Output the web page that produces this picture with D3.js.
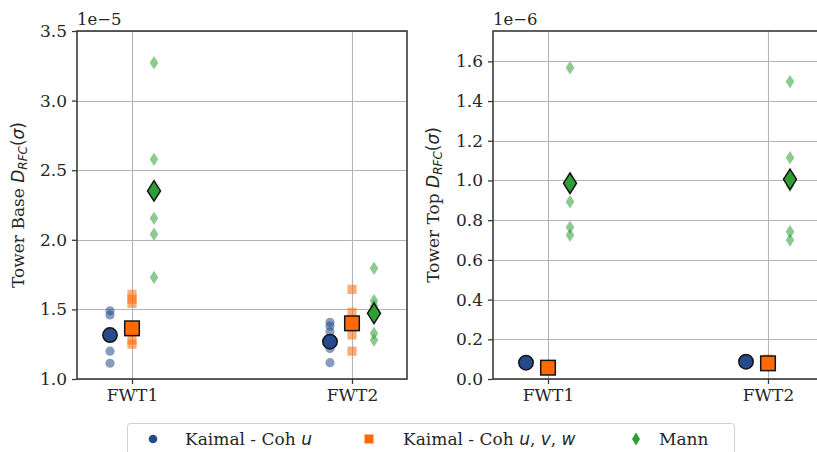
<!DOCTYPE html>
<html><head><meta charset="utf-8">
<script src="https://cdn.jsdelivr.net/npm/d3@7"></script>
<style>body{margin:0;background:#fff}svg{display:block}</style>
</head><body>
<svg id="chart" width="817" height="452"></svg>
<script>
// Turbines on the x axis
const turbines = ["FWT1", "FWT2"];

// Tower base damage D_RFC(sigma), in units of 1e-5 (individual seeds per turbine)
const baseKaimalU   = [[1.49, 1.46, 1.32, 1.20, 1.113], [1.407, 1.38, 1.34, 1.22, 1.117]];
const baseKaimalUVW = [[1.608, 1.573, 1.544, 1.28, 1.25], [1.644, 1.479, 1.40, 1.316, 1.20]];
const baseMann      = [[3.272, 2.578, 2.154, 2.04, 1.73], [1.795, 1.562, 1.524, 1.328, 1.28]];
// Tower base averages (1e-5)
const baseMeanKaimalU   = [1.316, 1.268];
const baseMeanKaimalUVW = [1.364, 1.40];
const baseMeanMann      = [2.351, 1.472];

// Tower top damage D_RFC(sigma), in units of 1e-6
const topKaimalU   = [[0.085, 0.082, 0.080, 0.078, 0.083], [0.092, 0.088, 0.085, 0.086, 0.090]];
const topKaimalUVW = [[0.060, 0.055, 0.050, 0.058, 0.060], [0.100, 0.085, 0.075, 0.070, 0.080]];
const topMann      = [[1.568, 0.893, 0.764, 0.725, 0.980], [1.498, 1.115, 0.742, 0.700, 0.975]];
// Tower top averages (1e-6)
const topMeanKaimalU   = [0.082, 0.087];
const topMeanKaimalUVW = [0.057, 0.079];
const topMeanMann      = [0.986, 1.006];

// Axis ticks
const baseTicks = [1.0, 1.5, 2.0, 2.5, 3.0, 3.5];
const topTicks  = [0.0, 0.2, 0.4, 0.6, 0.8, 1.0, 1.2, 1.4, 1.6];

const COLORS = { u: "#274a8c", uvw: "#ff6a06", mann: "#2e9f35" };
const SERIF = "'DejaVu Serif', 'Liberation Serif', serif";
const SANS = "'DejaVu Sans', sans-serif";
const FS = 17;

const svg = d3.select("#chart");

// marker path builders (centred at 0,0)
function diamondPath(w, h) {
  return `M0,${-h/2}L${w/2},0L0,${h/2}L${-w/2},0Z`;
}

function panel(opts) {
  const { left, right, top, bottom, yDomain, ticks, offsetText, labelX, labelPrefix, series } = opts;
  const g = svg.append("g");
  const x = d3.scaleLinear().domain([-0.25, 1.25]).range([left, right]);
  const y = d3.scaleLinear().domain(yDomain).range([bottom, top]);

  const clipId = "clip" + Math.round(left);
  svg.append("clipPath").attr("id", clipId)
    .append("rect").attr("x", left).attr("y", top).attr("width", right - left).attr("height", bottom - top);

  // grid
  const grid = g.append("g").attr("stroke", "#b4b4b4").attr("stroke-width", 1.1);
  grid.selectAll("line.h").data(ticks).join("line")
    .attr("x1", left).attr("x2", right)
    .attr("y1", d => Math.round(y(d)) + 0.5).attr("y2", d => Math.round(y(d)) + 0.5);
  grid.selectAll("line.v").data([0, 1]).join("line")
    .attr("y1", top).attr("y2", bottom)
    .attr("x1", d => Math.round(x(d)) + 0.5).attr("x2", d => Math.round(x(d)) + 0.5);

  const marks = g.append("g").attr("clip-path", `url(#${clipId})`);
  const offsets = [-0.1, 0, 0.1];
  series.forEach((s, si) => {
    const dx = offsets[si];
    // individual seeds
    const pts = [];
    s.values.forEach((arr, ti) => arr.forEach(v => pts.push({ t: ti, v })));
    const light = marks.append("g").attr("fill", s.color).attr("fill-opacity", 0.55);
    const big = marks.append("g").attr("fill", s.color).attr("stroke", "#151515").attr("stroke-width", 1.5);
    if (s.shape === "circle") {
      light.selectAll("circle").data(pts).join("circle")
        .attr("cx", d => x(d.t + dx)).attr("cy", d => y(d.v)).attr("r", 4.6);
      big.selectAll("circle").data(s.means).join("circle")
        .attr("cx", (d, i) => x(i + dx)).attr("cy", d => y(d)).attr("r", 7.2);
    } else if (s.shape === "square") {
      light.selectAll("rect").data(pts).join("rect")
        .attr("x", d => x(d.t + dx) - 4.6).attr("y", d => y(d.v) - 4.6)
        .attr("width", 9.2).attr("height", 9.2);
      big.selectAll("rect").data(s.means).join("rect")
        .attr("x", (d, i) => x(i + dx) - 7.3).attr("y", d => y(d) - 7.3)
        .attr("width", 14.6).attr("height", 14.6);
    } else {
      light.selectAll("path").data(pts).join("path")
        .attr("transform", d => `translate(${x(d.t + dx)},${y(d.v)})`)
        .attr("d", diamondPath(8.6, 13.4));
      big.selectAll("path").data(s.means).join("path")
        .attr("transform", (d, i) => `translate(${x(i + dx)},${y(d)})`)
        .attr("d", diamondPath(13, 20.5));
    }
  });

  // frame
  g.append("rect").attr("x", left).attr("y", top).attr("width", right - left).attr("height", bottom - top)
    .attr("fill", "none").attr("stroke", "#3a3a3a").attr("stroke-width", 1.6);

  // axes
  const yAxis = d3.axisLeft(y).tickValues(ticks).tickFormat(d3.format(".1f")).tickSize(5).tickPadding(5);
  const ya = g.append("g").attr("transform", `translate(${left},0)`).call(yAxis);
  const xAxis = d3.axisBottom(x).tickValues([0, 1]).tickFormat(i => turbines[i]).tickSize(5).tickPadding(5);
  const xa = g.append("g").attr("transform", `translate(0,${bottom})`).call(xAxis);
  [ya, xa].forEach(a => {
    a.attr("font-family", null).attr("font-size", null);
    a.select(".domain").remove();
    a.selectAll(".tick line").attr("stroke", "#3a3a3a").attr("stroke-width", 1.3);
    a.selectAll(".tick text").attr("fill", "#262626").attr("font-family", SERIF).attr("font-size", FS);
  });

  // scale offset text
  g.append("text").attr("x", left).attr("y", top - 6)
    .attr("fill", "#262626").attr("font-family", SERIF).attr("font-size", 16.5)
    .text(offsetText);

  // y label with math part
  const cy = (top + bottom) / 2;
  const lab = g.append("text")
    .attr("transform", `translate(${labelX},${cy}) rotate(-90)`)
    .attr("text-anchor", "middle").attr("fill", "#262626")
    .attr("font-family", SERIF).attr("font-size", 17);
  lab.append("tspan").text(labelPrefix + " ");
  lab.append("tspan").attr("font-family", SANS).attr("font-style", "italic").text("D");
  lab.append("tspan").attr("font-family", SANS).attr("font-style", "italic").attr("font-size", 12)
    .attr("dy", 3).text("RFC");
  lab.append("tspan").attr("font-family", SANS).attr("dy", -3).text("(");
  lab.append("tspan").attr("font-family", SANS).attr("font-style", "italic").text("σ");
  lab.append("tspan").attr("font-family", SANS).text(")");
}

panel({
  left: 77, right: 407, top: 31, bottom: 379,
  yDomain: [1.0, 3.5], ticks: baseTicks, offsetText: "1e−5", labelX: 24, labelPrefix: "Tower Base",
  series: [
    { shape: "circle", color: COLORS.u, values: baseKaimalU, means: baseMeanKaimalU },
    { shape: "square", color: COLORS.uvw, values: baseKaimalUVW, means: baseMeanKaimalUVW },
    { shape: "diamond", color: COLORS.mann, values: baseMann, means: baseMeanMann }
  ]
});

panel({
  left: 493, right: 823, top: 31, bottom: 379,
  yDomain: [0, 1.753], ticks: topTicks, offsetText: "1e−6", labelX: 439, labelPrefix: "Tower Top",
  series: [
    { shape: "circle", color: COLORS.u, values: topKaimalU, means: topMeanKaimalU },
    { shape: "square", color: COLORS.uvw, values: topKaimalUVW, means: topMeanKaimalUVW },
    { shape: "diamond", color: COLORS.mann, values: topMann, means: topMeanMann }
  ]
});

// legend
const legendItems = [
  { shape: "circle", color: COLORS.u, parts: [["Kaimal - Coh ", false], ["u", true]], mx: 153, tx: 185 },
  { shape: "square", color: COLORS.uvw, parts: [["Kaimal - Coh ", false], ["u", true], [", ", false], ["v", true], [", ", false], ["w", true]], mx: 369, tx: 403 },
  { shape: "diamond", color: COLORS.mann, parts: [["Mann", false]], mx: 636, tx: 659 }
];
const lg = svg.append("g");
lg.append("rect").attr("x", 127.5).attr("y", 423.5).attr("width", 607).attr("height", 40).attr("rx", 3)
  .attr("fill", "#fff").attr("stroke", "#d0d0d0").attr("stroke-width", 1);
const ly = 439;
legendItems.forEach(it => {
  if (it.shape === "circle") lg.append("circle").attr("cx", it.mx).attr("cy", ly).attr("r", 4.3).attr("fill", it.color);
  else if (it.shape === "square") lg.append("rect").attr("x", it.mx - 4.5).attr("y", ly - 4.5).attr("width", 9).attr("height", 9).attr("fill", it.color);
  else lg.append("path").attr("transform", `translate(${it.mx},${ly})`).attr("d", diamondPath(8, 13)).attr("fill", it.color);
  const t = lg.append("text").attr("x", it.tx).attr("y", ly + 6).attr("fill", "#262626")
    .attr("font-family", SERIF).attr("font-size", 17);
  it.parts.forEach(([s, math]) => {
    const sp = t.append("tspan").text(s);
    if (math) sp.attr("font-family", SANS).attr("font-style", "italic");
  });
});
</script>
</body></html>
